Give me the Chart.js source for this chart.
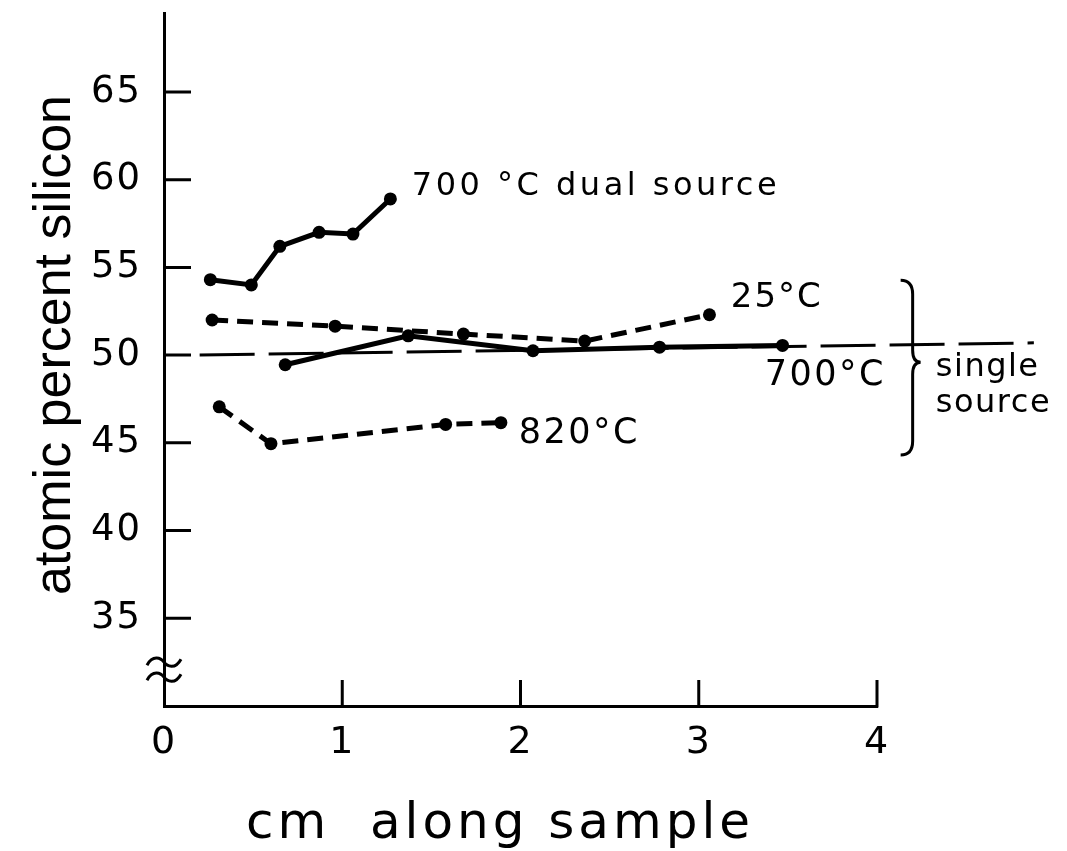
<!DOCTYPE html>
<html lang="en">
<head>
  <meta charset="UTF-8" />
  <title>Atomic percent silicon along sample</title>
  <script src="https://cdn.jsdelivr.net/npm/chart.js"></script>
  <style>
    * { margin: 0; padding: 0; box-sizing: border-box; }
    body { background: #fff; width: 1067px; height: 851px; overflow: hidden; }
    canvas { display: block; }
  </style>
</head>
<body>
  <canvas id="chart" width="1067" height="851"></canvas>

  <script>
    const xTicks = [0, 1, 2, 3, 4];
    const yTicks = [35, 40, 45, 50, 55, 60, 65];

    // 700 °C dual source (solid)
    const dualX = [0.26, 0.49, 0.65, 0.87, 1.06, 1.27];
    const dualY = [54.3, 54.0, 56.2, 57.0, 56.9, 58.9];
    // single source 25 °C (dashed)
    const s25X = [0.27, 0.96, 1.68, 2.36, 3.06];
    const s25Y = [52.0, 51.65, 51.2, 50.8, 52.3];
    // single source 700 °C (solid)
    const s700X = [0.68, 1.37, 2.07, 2.78, 3.47];
    const s700Y = [49.45, 51.1, 50.25, 50.45, 50.55];
    // single source 820 °C (dashed)
    const s820X = [0.31, 0.60, 1.58, 1.89];
    const s820Y = [47.05, 44.95, 46.05, 46.15];
    // 50 % reference line
    const refX = [0.2, 4.88];
    const refY = [50, 50.7];

    const pts = (xs, ys) => xs.map((x, i) => ({ x: x, y: ys[i] }));

    const notes = [
      { text: '700 °C dual source', x: 1.39, y: 59.1, size: 32, spacing: 3.5 },
      { text: '25°C', x: 3.18, y: 52.73, size: 34, spacing: 2 },
      { text: '700°C', x: 3.37, y: 48.29, size: 35, spacing: 2.5 },
      { text: '820°C', x: 1.99, y: 45.0, size: 35, spacing: 2.5 },
      { text: 'single', x: 4.33, y: 48.8, size: 32, spacing: 1.5 },
      { text: 'source', x: 4.33, y: 46.75, size: 32, spacing: 1.5 }
    ];

    function tilde(ctx, cx, cy) {
      ctx.moveTo(cx - 17, cy + 3);
      ctx.bezierCurveTo(cx - 11, cy - 8, cx - 3, cy - 4, cx, cy);
      ctx.bezierCurveTo(cx + 3, cy + 4, cx + 11, cy + 8, cx + 17, cy - 3);
    }

    const decor = {
      id: 'decor',
      beforeDraw(chart) {
        chart.ctx.letterSpacing = '2px';
      },
      afterDraw(chart) {
        const ctx = chart.ctx;
        const x = chart.scales.x, y = chart.scales.y;
        ctx.save();
        ctx.strokeStyle = '#000';
        ctx.fillStyle = '#000';
        ctx.lineWidth = 3;

        // inward tick marks
        ctx.beginPath();
        yTicks.forEach(v => {
          const py = y.getPixelForValue(v);
          ctx.moveTo(x.left, py);
          ctx.lineTo(x.left + 27, py);
        });
        xTicks.slice(1).forEach(v => {
          const px = x.getPixelForValue(v);
          ctx.moveTo(px, y.bottom + 1.5);
          ctx.lineTo(px, y.bottom - 26);
        });
        ctx.stroke();

        // axis break
        const by = y.getPixelForValue(32.1);
        ctx.beginPath();
        tilde(ctx, x.left, by - 7);
        tilde(ctx, x.left, by + 8);
        ctx.stroke();

        // brace for the single source curves
        const bx = x.getPixelForValue(4.2);
        const bt = y.getPixelForValue(54.27);
        const bm = y.getPixelForValue(49.6);
        const bb = y.getPixelForValue(44.3);
        ctx.lineWidth = 3;
        ctx.beginPath();
        ctx.moveTo(bx - 12, bt);
        ctx.quadraticCurveTo(bx, bt, bx, bt + 14);
        ctx.lineTo(bx, bm - 12);
        ctx.quadraticCurveTo(bx, bm, bx + 8, bm);
        ctx.quadraticCurveTo(bx, bm, bx, bm + 12);
        ctx.lineTo(bx, bb - 14);
        ctx.quadraticCurveTo(bx, bb, bx - 12, bb);
        ctx.stroke();

        // curve labels
        ctx.textAlign = 'left';
        ctx.textBaseline = 'alphabetic';
        notes.forEach(n => {
          ctx.font = n.size + 'px "DejaVu Sans"';
          ctx.letterSpacing = n.spacing + 'px';
          ctx.fillText(n.text, x.getPixelForValue(n.x), y.getPixelForValue(n.y));
        });

        // axis titles
        ctx.textAlign = 'center';
        ctx.font = '50px "DejaVu Sans"';
        ctx.letterSpacing = '4px';
        ctx.fillText('cm  along sample', 500, 838);

        ctx.translate(70, 345);
        ctx.rotate(-Math.PI / 2);
        ctx.font = '52px "Liberation Sans"';
        ctx.letterSpacing = '0px';
        ctx.fillText('atomic percent silicon', 0, 0);
        ctx.restore();
      }
    };

    const line = {
      showLine: true,
      borderColor: '#000',
      backgroundColor: '#000',
      pointBackgroundColor: '#000',
      pointBorderWidth: 0,
      pointRadius: 6.5,
      pointHoverRadius: 6.5
    };

    new Chart(document.getElementById('chart'), {
      type: 'scatter',
      data: {
        datasets: [
          { ...line, label: '700 °C dual source', data: pts(dualX, dualY), borderWidth: 5 },
          { ...line, label: '25 °C', data: pts(s25X, s25Y), borderWidth: 5, borderDash: [16, 9] },
          { ...line, label: '700 °C', data: pts(s700X, s700Y), borderWidth: 5 },
          { ...line, label: '820 °C', data: pts(s820X, s820Y), borderWidth: 5, borderDash: [16, 9] },
          { ...line, label: '50 %', data: pts(refX, refY), borderWidth: 3, borderDash: [55, 14], pointRadius: 0, pointHoverRadius: 0, clip: false }
        ]
      },
      options: {
        responsive: false,
        animation: false,
        devicePixelRatio: 1,
        events: [],
        layout: { padding: { left: 0, right: 190, top: 13, bottom: 0 } },
        plugins: {
          legend: { display: false },
          tooltip: { enabled: false }
        },
        scales: {
          x: {
            type: 'linear',
            min: 0,
            max: 4,
            grid: { display: false, drawTicks: false },
            border: { display: true, color: '#000', width: 3 },
            ticks: {
              color: '#000',
              padding: 14,
              font: { family: 'DejaVu Sans', size: 38 }
            },
            afterBuildTicks: s => { s.ticks = xTicks.map(v => ({ value: v })); },
            afterFit: s => { s.height = 145; s.paddingLeft = 0; s.paddingRight = 0; }
          },
          y: {
            type: 'linear',
            min: 30,
            max: 69.5,
            grid: { display: false, drawTicks: false },
            border: { display: true, color: '#000', width: 3 },
            ticks: {
              color: '#000',
              padding: 22,
              font: { family: 'DejaVu Sans', size: 37 }
            },
            afterBuildTicks: s => { s.ticks = yTicks.map(v => ({ value: v })); },
            afterFit: s => { s.width = 164; s.paddingTop = 0; s.paddingBottom = 0; }
          }
        }
      },
      plugins: [decor]
    });
  </script>
</body>
</html>
